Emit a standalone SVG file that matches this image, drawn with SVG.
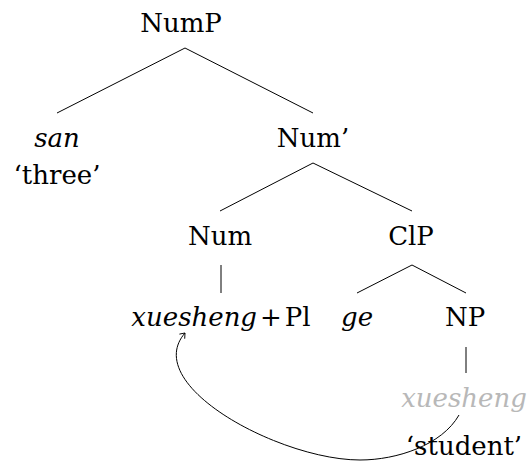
<svg xmlns="http://www.w3.org/2000/svg" width="528" height="462" viewBox="0 0 528 462">
<style>
text{font-family:"DejaVu Serif",serif;font-size:26px;fill:#000;text-anchor:middle}
.it{font-style:italic}
.ghost{fill:#b8b8b8}
.edge{stroke:#000;stroke-width:1;fill:none}
</style>
<defs>
<marker id="arr" viewBox="-6 -5 8 10" markerWidth="8" markerHeight="10" refX="0" refY="0" orient="auto" markerUnits="userSpaceOnUse">
<path d="M-4.5,-3.5 Q-1,-0.8 0,0 Q-1,0.8 -4.5,3.5" fill="none" stroke="#000" stroke-width="0.9"/>
</marker>
</defs>
<rect width="528" height="462" fill="#fff"/>
<g id="connectors">
<path class="edge" d="M185,48 L57,113 M185,48 L313,113"/>
<path class="edge" d="M313,163 L220,211 M313,163 L412,211"/>
<path class="edge" d="M221,265 L221,293"/>
<path class="edge" d="M412,265 L357,293 M412,265 L466,293"/>
<path class="edge" d="M466,347 L466,373"/>
<path class="edge" d="M459,415 C442,445 397,460 360,460 C280,460 140,385 185,333" marker-end="url(#arr)"/>
</g>
<g id="NumP"><text x="181" y="32">NumP</text></g>
<g id="san"><text class="it" x="57" y="147">san</text><text x="57" y="184">‘three’</text></g>
<g id="NumBar"><text x="313" y="147">Num’</text></g>
<g id="Num"><text x="220" y="245">Num</text></g>
<g id="ClP"><text x="411" y="245">ClP</text></g>
<g id="xueshengPl"><text x="221" y="326"><tspan class="it">xuesheng</tspan><tspan dx="3">+</tspan><tspan dx="3">Pl</tspan></text></g>
<g id="ge"><text class="it" x="357" y="326">ge</text></g>
<g id="NP"><text x="465" y="326">NP</text></g>
<g id="xuesheng"><text class="it ghost" x="464" y="407" font-size="25">xuesheng</text><text x="464" y="455">‘student’</text></g>
</svg>
